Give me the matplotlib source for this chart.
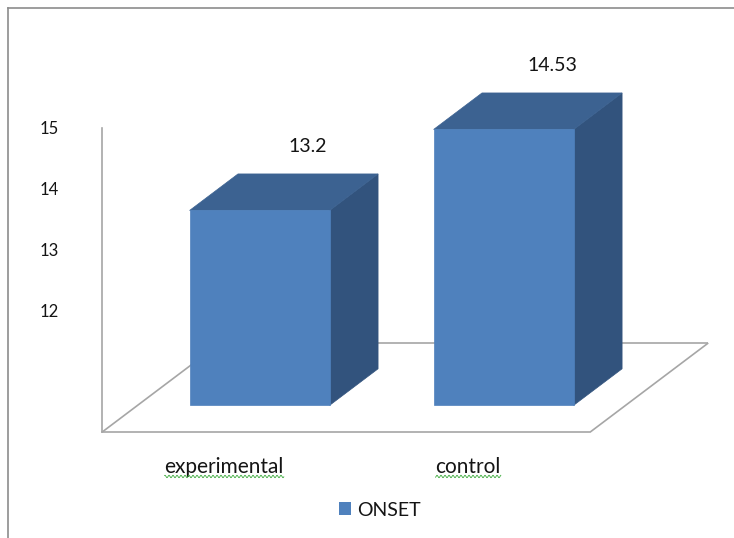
import matplotlib
matplotlib.use('Agg')
import matplotlib.pyplot as plt
from matplotlib.patches import Polygon, Patch
from matplotlib.lines import Line2D
from matplotlib.transforms import IdentityTransform
import numpy as np

# data
categories = ['experimental', 'control']
onset = [13.2, 14.53]
value_ticks = [12, 13, 14, 15]
series_name = 'ONSET'

base, top = 10, 15  # value axis range (floor to top of wall)

# colours of the box faces
FRONT = '#4F81BD'
TOP = '#3C6291'
SIDE = '#32537D'
LINE = '#A6A6A6'
TEXT = '#141414'

# oblique depth: full floor depth in data units, bars sit between d0 and d1
DX, DY = 0.4836, 1.4614
d0, d1 = 0.30, 0.71
hw = 0.287  # half bar width

plt.rcParams['font.family'] = ['Lato', 'DejaVu Sans']

fig = plt.figure(figsize=(7.34, 5.38), dpi=100)
ax = fig.add_axes([0, 0, 1, 1])
ax.set_xlim(-0.919, 2.089)
ax.set_ylim(8.259, 17.094)
ax.patch.set_visible(False)

# axes lines: value axis at the front-left corner, floor front edge
for s in ['top', 'right']:
    ax.spines[s].set_visible(False)
ax.spines['left'].set_position(('data', -0.5))
ax.spines['left'].set_bounds(base, top)
ax.spines['bottom'].set_position(('data', base))
ax.spines['bottom'].set_bounds(-0.5, len(categories) - 0.5)
for s in ['left', 'bottom']:
    ax.spines[s].set_color(LINE)
    ax.spines[s].set_linewidth(1.2)

ax.set_yticks(value_ticks)
ax.tick_params(axis='y', length=0, pad=31, labelsize=12, labelcolor=TEXT)
ax.set_xticks(range(len(categories)), categories)
ax.tick_params(axis='x', length=0, pad=18, labelsize=15, labelcolor=TEXT)

# rest of the floor
x_l, x_r = -0.5, len(categories) - 0.5
floor_kw = dict(color=LINE, lw=1.2, zorder=1, solid_capstyle='butt')
ax.plot([x_l, x_l + DX], [base, base + DY], **floor_kw)
ax.plot([x_r, x_r + DX], [base, base + DY], **floor_kw)
ax.plot([x_l + DX, x_r + DX], [base + DY, base + DY], **floor_kw)

# 3d-looking columns
for i, v in enumerate(onset):
    xa, xb = i - hw, i + hw
    front = [(xa + d0 * DX, base + d0 * DY), (xb + d0 * DX, base + d0 * DY),
             (xb + d0 * DX, v + d0 * DY), (xa + d0 * DX, v + d0 * DY)]
    lid = [(xa + d0 * DX, v + d0 * DY), (xb + d0 * DX, v + d0 * DY),
           (xb + d1 * DX, v + d1 * DY), (xa + d1 * DX, v + d1 * DY)]
    side = [(xb + d0 * DX, base + d0 * DY), (xb + d1 * DX, base + d1 * DY),
            (xb + d1 * DX, v + d1 * DY), (xb + d0 * DX, v + d0 * DY)]
    ax.add_patch(Polygon(side, closed=True, facecolor=SIDE, edgecolor=SIDE, lw=0.5, zorder=3))
    ax.add_patch(Polygon(lid, closed=True, facecolor=TOP, edgecolor=TOP, lw=0.5, zorder=3))
    ax.add_patch(Polygon(front, closed=True, facecolor=FRONT, edgecolor=FRONT, lw=0.5, zorder=4))
    ax.annotate(str(v), xy=(i + d1 * DX, v + d1 * DY), xytext=(0, 20),
                textcoords='offset points', ha='center', va='center',
                fontsize=14, color=TEXT)

fig.legend(handles=[Patch(facecolor=FRONT, label=series_name)], loc='center',
           bbox_to_anchor=(380 / 734, 1 - 510 / 538), frameon=False,
           handlelength=0.6, handleheight=0.6, handletextpad=0.3,
           fontsize=14, labelcolor=TEXT)

# chart area border (runs off the right and bottom)
bx, by = 7.5 / 734, 1 - 8 / 538
fig.add_artist(Line2D([bx, bx], [0, by], transform=fig.transFigure, color='#8C8C8C', lw=1.2))
fig.add_artist(Line2D([bx, 1], [by, by], transform=fig.transFigure, color='#8C8C8C', lw=1.2))

# green wavy underline under the category labels
fig.canvas.draw()
renderer = fig.canvas.get_renderer()
for lab in ax.get_xticklabels():
    bb = lab.get_window_extent(renderer)
    xs = np.arange(bb.x0, bb.x1, 0.25)
    ys = bb.y0 + 0.5 + 1.2 * np.sin(xs * 2 * np.pi / 4.0)
    fig.add_artist(Line2D(xs, ys, transform=IdentityTransform(), color='#3DAA3D', lw=0.6))

fig.savefig('out.png', dpi=100)
